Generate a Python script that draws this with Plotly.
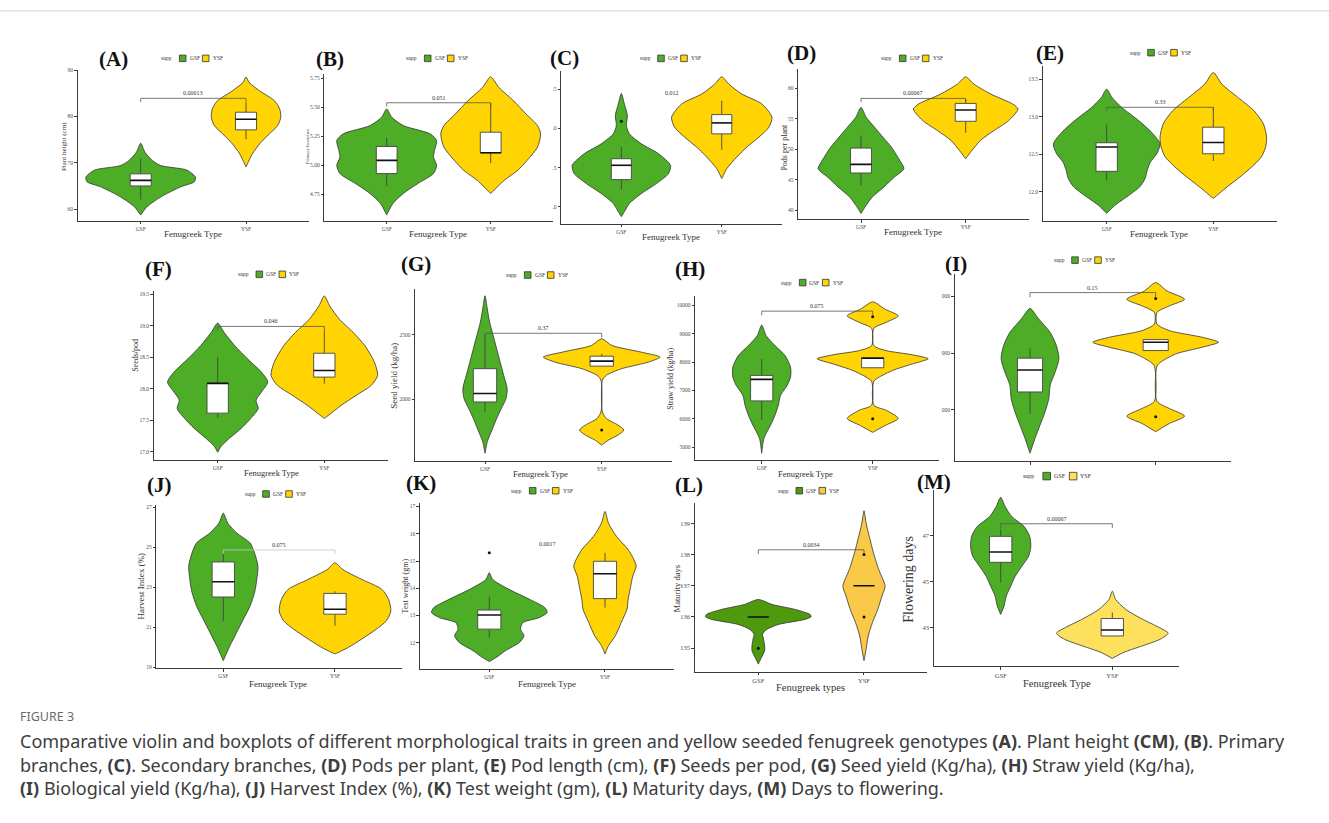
import plotly.graph_objects as go

W, H = 1329, 823
GROUPS = ["GSF", "YSF"]

GREEN = "#4DAD26"
YELLOW = "#FFD402"
GREEN_L = "#4E9A0C"
YELLOW_L = "#F9C947"
YELLOW_M = "#FDE05C"
SERIF = "Liberation Serif"

# ---------------- (A) Plant height (cm) ----------------
A_TICKS = [60, 70, 80, 90]
A_GSF_Y = [74.2, 72.3, 70.5, 69.4, 68.4, 66.9, 65.9, 64.8, 62.6, 60.5, 58.7]
A_GSF_W = [0, 0.04, 0.11, 0.19, 0.44, 0.52, 0.51, 0.38, 0.19, 0.06, 0]
A_YSF_Y = [88.5, 87.3, 85.5, 83.4, 81.6, 79.8, 78.0, 76.2, 74.1, 71.9, 69.1]
A_YSF_W = [0, 0.03, 0.13, 0.27, 0.32, 0.33, 0.30, 0.22, 0.13, 0.06, 0]
A_BOX = [[62.1, 65.0, 66.2, 67.6, 70.9], [75.1, 77.1, 79.4, 80.9, 83.0]]
A_OUT = [[], []]
A_P, A_BRACKET = "0.00013", 83.9

# ---------------- (B) Primary branches ----------------
B_TICKS = [4.75, 5.00, 5.25, 5.50, 5.75]
B_GSF_Y = [5.486, 5.414, 5.343, 5.271, 5.214, 5.129, 5.071, 5.0, 4.929, 4.843, 4.757, 4.671, 4.571]
B_GSF_W = [0, 0.05, 0.16, 0.42, 0.48, 0.46, 0.45, 0.48, 0.45, 0.30, 0.16, 0.06, 0]
B_YSF_Y = [5.763, 5.671, 5.557, 5.443, 5.343, 5.271, 5.157, 5.043, 4.957, 4.871, 4.757]
B_YSF_W = [0, 0.08, 0.22, 0.34, 0.45, 0.48, 0.45, 0.35, 0.26, 0.13, 0]
B_BOX = [[4.82, 4.929, 5.043, 5.163, 5.237], [5.02, 5.109, 5.109, 5.286, 5.537]]
B_OUT = [[], []]
B_P, B_BRACKET = "0.051", 5.54

# ---------------- (C) Secondary branches ----------------
C_TICKS = [1.0, 1.5, 2.0, 2.5]
C_TICKTEXT = [".0", ".5", ".0", ".5"]
C_GSF_Y = [2.449, 2.314, 2.165, 2.038, 1.932, 1.805, 1.678, 1.53, 1.424, 1.297, 1.169, 1.042, 0.958, 0.873]
C_GSF_W = [0, 0.03, 0.06, 0.05, 0.08, 0.20, 0.37, 0.49, 0.47, 0.35, 0.20, 0.08, 0.04, 0]
C_YSF_Y = [2.661, 2.568, 2.441, 2.314, 2.144, 2.017, 1.89, 1.763, 1.636, 1.487, 1.36]
C_YSF_W = [0, 0.07, 0.20, 0.40, 0.50, 0.47, 0.37, 0.25, 0.15, 0.05, 0]
C_BOX = [[1.22, 1.347, 1.53, 1.614, 1.763], [1.729, 1.932, 2.072, 2.178, 2.356]]
C_OUT = [[2.093], []]
C_P, C_LABEL_Y = "0.012", 2.39

# ---------------- (D) Pods per plant ----------------
D_TICKS = [40, 45, 50, 55, 60]
D_GSF_Y = [56.9, 55.27, 53.64, 52.01, 50.38, 48.21, 46.85, 45.49, 43.86, 42.23, 40.6, 39.5]
D_GSF_W = [0, 0.05, 0.13, 0.21, 0.29, 0.37, 0.41, 0.32, 0.22, 0.11, 0.04, 0]
D_YSF_Y = [61.9, 60.71, 59.08, 57.45, 56.63, 54.73, 53.1, 51.47, 49.84, 48.48]
D_YSF_W = [0, 0.08, 0.24, 0.45, 0.50, 0.41, 0.27, 0.14, 0.06, 0]
D_BOX = [[44.13, 46.14, 47.55, 50.22, 52.28], [52.72, 54.62, 56.47, 57.55, 58.26]]
D_OUT = [[], []]
D_P, D_BRACKET = "0.00067", 58.37

# ---------------- (E) Pod length (cm) ----------------
E_TICKS = [12.0, 12.5, 13.0, 13.5]
E_GSF_Y = [13.367, 13.257, 13.125, 12.948, 12.794, 12.64, 12.507, 12.397, 12.287, 12.176, 12.066, 11.934, 11.824, 11.713]
E_GSF_W = [0, 0.05, 0.14, 0.30, 0.42, 0.50, 0.47, 0.41, 0.38, 0.36, 0.31, 0.19, 0.08, 0]
E_YSF_Y = [13.588, 13.434, 13.257, 13.081, 12.904, 12.728, 12.596, 12.463, 12.331, 12.198, 12.066, 11.912]
E_YSF_W = [0, 0.08, 0.23, 0.38, 0.47, 0.50, 0.49, 0.45, 0.36, 0.25, 0.13, 0]
E_BOX = [[12.154, 12.273, 12.596, 12.653, 12.895], [12.41, 12.507, 12.657, 12.86, 13.125]]
E_OUT = [[], []]
E_P, E_BRACKET = "0.33", 13.125

# ---------------- (F) Seeds per pod ----------------
F_TICKS = [17.0, 17.5, 18.0, 18.5, 19.0, 19.5]
F_GSF_Y = [19.042, 18.895, 18.684, 18.474, 18.263, 18.105, 17.947, 17.816, 17.684, 17.526, 17.368, 17.211, 17.079, 16.99]
F_GSF_W = [0, 0.06, 0.16, 0.28, 0.41, 0.47, 0.41, 0.36, 0.38, 0.31, 0.22, 0.11, 0.03, 0]
F_YSF_Y = [19.474, 19.316, 19.105, 18.895, 18.684, 18.421, 18.211, 18.053, 17.895, 17.737, 17.605, 17.526]
F_YSF_W = [0, 0.05, 0.14, 0.27, 0.38, 0.47, 0.50, 0.44, 0.30, 0.16, 0.06, 0]
F_BOX = [[17.537, 17.611, 18.084, 18.084, 18.495], [18.079, 18.184, 18.289, 18.563, 18.921]]
F_OUT = [[], []]
F_P, F_BRACKET = "0.046", 18.989

# ---------------- (G) Seed yield (kg/ha) ----------------
G_TICKS = [2000, 2500]
G_GSF_Y = [2800, 2697, 2595, 2492, 2390, 2287, 2185, 2082, 2005, 1928, 1851, 1762, 1672, 1582]
G_GSF_W = [0, 0.02, 0.04, 0.07, 0.10, 0.13, 0.16, 0.19, 0.18, 0.14, 0.10, 0.06, 0.02, 0]
G_YSF_Y = [2467, 2415, 2364, 2326, 2287, 2236, 2185, 2146, 1903, 1851, 1800, 1762, 1723, 1685, 1646]
G_YSF_W = [0, 0.09, 0.34, 0.50, 0.40, 0.17, 0.04, 0.006, 0.006, 0.04, 0.14, 0.19, 0.14, 0.06, 0]
G_BOX = [[1903, 1979, 2044, 2236, 2497], [2256, 2256, 2295, 2333, 2351]]
G_OUT = [[], [1762]]
G_P, G_BRACKET = "0.37", 2510

# ---------------- (H) Straw yield (kg/ha) ----------------
H_TICKS = [5000, 6000, 7000, 8000, 9000, 10000]
H_GSF_Y = [9301, 8928, 8578, 8228, 7821, 7471, 7180, 6830, 6480, 6131, 5781, 5315, 4790]
H_GSF_W = [0, 0.04, 0.12, 0.21, 0.26, 0.26, 0.23, 0.17, 0.15, 0.12, 0.08, 0.02, 0]
H_YSF_Y = [10117, 9860, 9627, 9394, 9184, 8578, 8403, 8252, 8112, 7937, 7704, 7471, 7319, 6480, 6305, 6014, 5781, 5524]
H_YSF_W = [0, 0.11, 0.23, 0.12, 0.01, 0.01, 0.12, 0.36, 0.50, 0.36, 0.18, 0.06, 0.01, 0.01, 0.12, 0.23, 0.12, 0]
H_BOX = [[5956, 6632, 7389, 7529, 8112], [7797, 7797, 8130, 8150, 8150]]
H_OUT = [[], [9592, 6002]]
H_P, H_BRACKET = "0.075", 9790

# ---------------- (I) Biological yield (kg/ha) ----------------
I_TICKS = [9000, 10000, 11000]
I_TICKTEXT = ["000", "000", "000"]
I_GSF_Y = [10790, 10602, 10368, 10135, 9901, 9667, 9433, 9199, 8965, 8731, 8497, 8234]
I_GSF_W = [0, 0.07, 0.16, 0.21, 0.23, 0.20, 0.16, 0.15, 0.12, 0.08, 0.04, 0]
I_YSF_Y = [11246, 11099, 10953, 10836, 10719, 10515, 10398, 10281, 10193, 10105, 9988, 9842, 9772, 9152, 9023, 8889, 8760, 8614]
I_YSF_W = [0, 0.09, 0.23, 0.11, 0.01, 0.01, 0.11, 0.37, 0.50, 0.37, 0.16, 0.04, 0.01, 0.01, 0.11, 0.23, 0.11, 0]
I_BOX = [[8924, 9316, 9702, 9912, 10088], [10047, 10047, 10193, 10240, 10240]]
I_OUT = [[], [10965, 8877]]
I_P, I_BRACKET = "0.15", 11070

# ---------------- (J) Harvest index (%) ----------------
J_TICKS = [19, 21, 23, 25, 27]
J_GSF_Y = [26.7, 26.2, 25.71, 25.21, 24.71, 24.05, 23.39, 22.73, 22.06, 21.4, 20.74, 20.08, 19.33]
J_GSF_W = [0, 0.04, 0.12, 0.24, 0.28, 0.31, 0.30, 0.28, 0.24, 0.18, 0.12, 0.06, 0]
J_YSF_Y = [24.22, 23.88, 23.39, 22.89, 22.39, 21.81, 21.32, 20.9, 20.41, 19.99, 19.66]
J_YSF_W = [0, 0.07, 0.24, 0.42, 0.48, 0.50, 0.46, 0.37, 0.24, 0.12, 0]
J_BOX = [[21.32, 22.51, 23.27, 24.26, 24.68], [21.07, 21.65, 21.9, 22.69, 22.79]]
J_OUT = [[], []]
J_P, J_BRACKET = "0.075", 24.86

# ---------------- (K) Test weight (gm) ----------------
K_TICKS = [12, 13, 14, 15, 16, 17]
K_GSF_Y = [14.57, 14.32, 13.96, 13.59, 13.29, 13.11, 12.92, 12.74, 12.5, 12.26, 12.01, 11.71, 11.46, 11.31]
K_GSF_W = [0, 0.03, 0.17, 0.35, 0.48, 0.50, 0.43, 0.29, 0.27, 0.30, 0.26, 0.14, 0.06, 0]
K_YSF_Y = [16.82, 16.39, 15.9, 15.42, 15.05, 14.81, 14.45, 14.02, 13.59, 13.23, 12.74, 12.26, 11.89, 11.59]
K_YSF_W = [0, 0.03, 0.10, 0.20, 0.25, 0.27, 0.24, 0.22, 0.20, 0.19, 0.14, 0.09, 0.03, 0]
K_BOX = [[12.19, 12.5, 13.02, 13.2, 13.69], [13.29, 13.62, 14.53, 14.99, 15.3]]
K_OUT = [[15.3], []]
K_P, K_LABEL_Y = "0.0017", 15.44

# ---------------- (L) Maturity days ----------------
L_TICKS = [135, 136, 137, 138, 139]
L_GSF_Y = [136.56, 136.4, 136.24, 136.08, 136.01, 135.92, 135.76, 135.6, 135.45, 135.29, 135.07, 134.92, 134.7, 134.49]
L_GSF_W = [0, 0.13, 0.35, 0.49, 0.50, 0.44, 0.19, 0.08, 0.04, 0.05, 0.06, 0.06, 0.03, 0]
L_YSF_Y = [139.4, 139.0, 138.58, 138.05, 137.51, 137.2, 136.98, 136.67, 136.24, 135.82, 135.39, 134.97, 134.6]
L_YSF_W = [0, 0.02, 0.05, 0.09, 0.14, 0.18, 0.20, 0.17, 0.13, 0.08, 0.04, 0.02, 0]
L_BOX = [[136, 136, 136, 136, 136], [137, 137, 137, 137, 137]]
L_OUT = [[135], [138, 136]]
L_P, L_BRACKET = "0.0034", 138.15

# ---------------- (M) Days to flowering ----------------
M_TICKS = [43, 45, 47]
M_GSF_Y = [48.66, 48.26, 47.82, 47.39, 46.96, 46.52, 46.09, 45.66, 45.22, 44.79, 44.36, 43.92, 43.56]
M_GSF_W = [0, 0.04, 0.10, 0.21, 0.26, 0.27, 0.25, 0.19, 0.13, 0.09, 0.05, 0.03, 0]
M_YSF_Y = [44.57, 44.21, 43.78, 43.35, 42.99, 42.74, 42.48, 42.19, 41.9, 41.64]
M_YSF_W = [0, 0.03, 0.12, 0.27, 0.42, 0.50, 0.43, 0.27, 0.10, 0]
M_BOX = [[44.96, 45.83, 46.28, 46.96, 47.27], [42.62, 42.62, 42.88, 43.38, 43.64]]
M_OUT = [[], []]
M_P, M_BRACKET = "0.00067", 47.51


def fmt(ticks, nd):
    return [f"{t:.{nd}f}" for t in ticks]


# Panel layout: plot area in pixels (left, top, right, bottom), axis range and
# the placement of the surrounding texts.
panels = [
    dict(tag="(A)", area=(77.5, 67, 309.2, 219), yr=(57.5, 90.1), ticks=A_TICKS, tt=fmt(A_TICKS, 0),
         v=[(A_GSF_Y, A_GSF_W), (A_YSF_Y, A_YSF_W)], box=A_BOX, out=A_OUT, p=A_P, br=A_BRACKET,
         tagpos=(113, 56.5), leg=(166.7, 55.7), yt=("Plant height (cm)", 64, 145, 7),
         xt=("Fenugreek Type", 193.3, 232, 9)),
    dict(tag="(B)", area=(324.3, 71.7, 553.1, 219.3), yr=(4.52, 5.786), ticks=B_TICKS, tt=fmt(B_TICKS, 2),
         v=[(B_GSF_Y, B_GSF_W), (B_YSF_Y, B_YSF_W)], box=B_BOX, out=B_OUT, p=B_P, br=B_BRACKET,
         tagpos=(329.7, 56.5), leg=(411.7, 55.7), yt=("Primary branches", 307, 145, 5),
         xt=("Fenugreek Type", 438.3, 232, 9)),
    dict(tag="(C)", area=(561.1, 68.3, 782, 222.3), yr=(0.78, 2.737), ticks=C_TICKS, tt=C_TICKTEXT,
         v=[(C_GSF_Y, C_GSF_W), (C_YSF_Y, C_YSF_W)], box=C_BOX, out=C_OUT, p=C_P, label_y=C_LABEL_Y,
         tagpos=(564, 55.5), leg=(645, 55.7), yt=None,
         xt=("Fenugreek Type", 671, 235, 9)),
    dict(tag="(D)", area=(798.2, 66.7, 1028.5, 217.7), yr=(38.53, 63.15), ticks=D_TICKS, tt=fmt(D_TICKS, 0),
         v=[(D_GSF_Y, D_GSF_W), (D_YSF_Y, D_YSF_W)], box=D_BOX, out=D_OUT, p=D_P, br=D_BRACKET,
         tagpos=(801, 50), leg=(886.7, 55.7), yt=("Pods per plant", 784.5, 145, 8),
         xt=("Fenugreek Type", 913, 230.5, 9)),
    dict(tag="(E)", area=(1042.7, 63.3, 1277.3, 219.3), yr=(11.612, 13.676), ticks=E_TICKS, tt=fmt(E_TICKS, 1),
         v=[(E_GSF_Y, E_GSF_W), (E_YSF_Y, E_YSF_W)], box=E_BOX, out=E_OUT, p=E_P, br=E_BRACKET,
         tagpos=(1049.5, 50), leg=(1135, 50), yt=None,
         xt=("Fenugreek Type", 1159, 232, 9)),
    dict(tag="(F)", area=(153.7, 289.7, 388.3, 459.7), yr=(16.868, 19.553), ticks=F_TICKS, tt=fmt(F_TICKS, 1),
         v=[(F_GSF_Y, F_GSF_W), (F_YSF_Y, F_YSF_W)], box=F_BOX, out=F_OUT, p=F_P, br=F_BRACKET,
         tagpos=(158.3, 268), leg=(243.3, 273), yt=("Seeds/pod", 136, 355, 8),
         xt=("Fenugreek Type", 271.7, 473, 8.5)),
    dict(tag="(G)", area=(415, 287.3, 671.7, 460.7), yr=(1523, 2856), ticks=G_TICKS, tt=fmt(G_TICKS, 0),
         v=[(G_GSF_Y, G_GSF_W), (G_YSF_Y, G_YSF_W)], box=G_BOX, out=G_OUT, p=G_P, br=G_BRACKET,
         tagpos=(416, 263), leg=(511.7, 273.7), yt=("Seed yield (kg/ha)", 394, 375, 9),
         xt=("Fenugreek Type", 540, 474, 8.5)),
    dict(tag="(H)", area=(695.1, 294.7, 939.3, 460), yr=(4545, 10326), ticks=H_TICKS, tt=fmt(H_TICKS, 0),
         v=[(H_GSF_Y, H_GSF_W), (H_YSF_Y, H_YSF_W)], box=H_BOX, out=H_OUT, p=H_P, br=H_BRACKET,
         tagpos=(690, 268), leg=(786.7, 281.3), yt=("Straw yield (kg/ha)", 671, 378, 8),
         xt=("Fenugreek Type", 805, 474, 8.5)),
    dict(tag="(I)", area=(954.6, 273, 1231.1, 461.3), yr=(8088, 11392), ticks=I_TICKS, tt=I_TICKTEXT,
         v=[(I_GSF_Y, I_GSF_W), (I_YSF_Y, I_YSF_W)], box=I_BOX, out=I_OUT, p=I_P, br=I_BRACKET,
         tagpos=(956, 263), leg=(1059, 258.7), yt=None, xt=None, xlabels=False),
    dict(tag="(J)", area=(156.3, 505, 402, 669.3), yr=(18.95, 27.11), ticks=J_TICKS, tt=fmt(J_TICKS, 0),
         v=[(J_GSF_Y, J_GSF_W), (J_YSF_Y, J_YSF_W)], box=J_BOX, out=J_OUT, p=J_P, br=J_BRACKET,
         brcolor="#c8c8c8",
         tagpos=(159, 485), leg=(250, 494), yt=("Harvest Index (%)", 141, 587, 9),
         xt=("Fenugreek Type", 278.3, 685, 9)),
    dict(tag="(K)", area=(419.9, 503.3, 674.4, 670), yr=(11.04, 17.12), ticks=K_TICKS, tt=fmt(K_TICKS, 0),
         v=[(K_GSF_Y, K_GSF_W), (K_YSF_Y, K_YSF_W)], box=K_BOX, out=K_OUT, p=K_P, label_y=K_LABEL_Y,
         tagpos=(421, 482.7), leg=(516.7, 490.7), yt=("Test weight (gm)", 405, 587, 8),
         xt=("Fenugreek Type", 546.7, 685.5, 9)),
    dict(tag="(L)", area=(694.9, 503.3, 927.4, 672.7), yr=(134.25, 139.64), ticks=L_TICKS, tt=fmt(L_TICKS, 0),
         v=[(L_GSF_Y, L_GSF_W), (L_YSF_Y, L_YSF_W)], box=L_BOX, out=L_OUT, p=L_P, br=L_BRACKET,
         colors=(GREEN_L, YELLOW_L), boxless=True,
         tagpos=(689, 485), leg=(783.3, 490.7), yt=("Maturity days", 677, 590, 8.5),
         xt=("Fenugreek types", 810, 689, 10.5), tick=6.5),
    dict(tag="(M)", area=(933.7, 490, 1179.3, 667.3), yr=(41.30, 48.98), ticks=M_TICKS, tt=fmt(M_TICKS, 0),
         v=[(M_GSF_Y, M_GSF_W), (M_YSF_Y, M_YSF_W)], box=M_BOX, out=M_OUT, p=M_P, br=M_BRACKET,
         colors=(GREEN, YELLOW_M),
         tagpos=(934, 481.7), leg=(1028.3, 476), yt=("Flowering days", 908.3, 580, 14),
         xt=("Fenugreek Type", 1056.7, 684.5, 10.5), tick=6.5),
]

fig = go.Figure()
annotations = []
shapes = []


def px(xp):
    return xp / W


def py(yp):
    return 1 - yp / H


def paper_text(text, x, y, size, color="#333333", angle=0, anchor="center", bold=False):
    return dict(x=px(x), y=py(y), xref="paper", yref="paper", text=("<b>%s</b>" % text) if bold else text,
                showarrow=False, xanchor=anchor, yanchor="middle", textangle=angle,
                font=dict(family=SERIF, size=size, color=color))


AXIS_COLOR = "#3a3a3a"
TICK_FONT_COLOR = "#4d4d4d"
BOX_WIDTH = 0.2
BOX_LINE = "#444444"

for i, p in enumerate(panels, start=1):
    sfx = "" if i == 1 else str(i)
    xref, yref = "x" + sfx, "y" + sfx
    x0, y0, x1, y1 = p["area"]
    tsize = p.get("tick", 5.5)
    common = dict(showline=True, linecolor=AXIS_COLOR, linewidth=1, ticks="outside", ticklen=2.5,
                  tickcolor=AXIS_COLOR, tickwidth=0.8, showgrid=False, zeroline=False, fixedrange=True,
                  tickfont=dict(family=SERIF, size=tsize, color=TICK_FONT_COLOR))
    fig.update_layout(**{
        "xaxis" + sfx: dict(domain=[px(x0), px(x1)], range=[0.4, 2.6], anchor=yref,
                            tickvals=[1, 2], ticktext=GROUPS, showticklabels=p.get("xlabels", True),
                            **common),
        "yaxis" + sfx: dict(domain=[py(y1), py(y0)], range=list(p["yr"]), anchor=xref,
                            tickvals=p["ticks"], ticktext=p["tt"], **common),
    })

    colors = p.get("colors", (GREEN, YELLOW))
    for g in range(2):
        pos = g + 1
        vy, vw = p["v"][g]
        # violin outline: left half, then right half back
        xs = [pos - w for w in vw] + [pos + w for w in reversed(vw)]
        ys = list(vy) + list(reversed(vy))
        fig.add_trace(go.Scatter(
            x=xs, y=ys, xaxis=xref, yaxis=yref, mode="lines", fill="toself",
            fillcolor=colors[g], line=dict(color="#333333", width=0.8, shape="spline", smoothing=0.7),
            hoverinfo="skip", showlegend=False))

        lo, q1, med, q3, hi = p["box"][g]
        bl, br_ = pos - BOX_WIDTH / 2, pos + BOX_WIDTH / 2
        if not p.get("boxless"):
            # whiskers
            fig.add_trace(go.Scatter(
                x=[pos, pos, None, pos, pos], y=[hi, q3, None, q1, lo], xaxis=xref, yaxis=yref,
                mode="lines", line=dict(color=BOX_LINE, width=0.9), hoverinfo="skip", showlegend=False))
            # box body
            fig.add_trace(go.Scatter(
                x=[bl, br_, br_, bl, bl], y=[q1, q1, q3, q3, q1], xaxis=xref, yaxis=yref,
                mode="lines", fill="toself", fillcolor="white",
                line=dict(color=BOX_LINE, width=0.9), hoverinfo="skip", showlegend=False))
        # median
        fig.add_trace(go.Scatter(
            x=[bl, br_], y=[med, med], xaxis=xref, yaxis=yref,
            mode="lines", line=dict(color="#111111", width=1.6), hoverinfo="skip", showlegend=False))

        if p["out"][g]:
            fig.add_trace(go.Scatter(
                x=[pos] * len(p["out"][g]), y=p["out"][g], xaxis=xref, yaxis=yref, mode="markers",
                marker=dict(color="#111111", size=3), hoverinfo="skip", showlegend=False))

    # significance bracket and p-value
    span = p["yr"][1] - p["yr"][0]
    if "br" in p:
        b = p["br"]
        tip = 0.025 * span
        fig.add_trace(go.Scatter(
            x=[1, 1, 2, 2], y=[b - tip, b, b, b - tip], xaxis=xref, yaxis=yref, mode="lines",
            line=dict(color=p.get("brcolor", "#555555"), width=0.8), hoverinfo="skip", showlegend=False))
        ly = b
    else:
        ly = p["label_y"]
    annotations.append(dict(
        x=1.5, y=ly, xref=xref, yref=yref, text=p["p"], showarrow=False, xanchor="center",
        yanchor="bottom", font=dict(family=SERIF, size=6, color="#333333")))

    # panel tag
    tx, ty = p["tagpos"]
    annotations.append(paper_text(p["tag"], tx, ty, 21, color="#111111", bold=True))

    # legend: supp [GSF] [YSF]
    lx, ly2 = p["leg"]
    big = p["tag"] == "(M)"
    k = 1.15 if big else 1.0
    lsize = 6 if big else 5.5
    annotations.append(paper_text("supp", lx, ly2, lsize))
    for g, off in enumerate((16, 39)):
        cx = lx + off * k
        half = 3.3 * k
        shapes.append(dict(type="rect", xref="paper", yref="paper",
                           x0=px(cx - half), x1=px(cx + half), y0=py(ly2 + half), y1=py(ly2 - half),
                           fillcolor=colors[g], line=dict(color="#333333", width=0.8)))
        annotations.append(paper_text(GROUPS[g], cx + half + 1.5, ly2, lsize, anchor="left"))

    # axis titles
    if p.get("yt"):
        t, ax, ay, s = p["yt"]
        annotations.append(paper_text(t, ax, ay, s, angle=-90))
    if p.get("xt"):
        t, ax, ay, s = p["xt"]
        annotations.append(paper_text(t, ax, ay, s))

# top rule
shapes.append(dict(type="line", xref="paper", yref="paper", x0=0, x1=1, y0=py(8), y1=py(8),
                   line=dict(color="#cfcfcf", width=1)))

# caption
CAPTION_FONT = "Noto Sans"
annotations.append(dict(x=px(18), y=py(718), xref="paper", yref="paper", text="FIGURE 3",
                        showarrow=False, xanchor="left", yanchor="middle",
                        font=dict(family=CAPTION_FONT, size=12.5, color="#6b6b6b")))
caption_lines = [
    "Comparative violin and boxplots of different morphological traits in green and yellow seeded fenugreek "
    "genotypes <b>(A)</b>. Plant height <b>(CM)</b>, <b>(B)</b>. Primary",
    "branches, <b>(C)</b>. Secondary branches, <b>(D)</b> Pods per plant, <b>(E)</b> Pod length (cm), "
    "<b>(F)</b> Seeds per pod, <b>(G)</b> Seed yield (Kg/ha), <b>(H)</b> Straw yield (Kg/ha),",
    "<b>(I)</b> Biological yield (Kg/ha), <b>(J)</b> Harvest Index (%), <b>(K)</b> Test weight (gm), "
    "<b>(L)</b> Maturity days, <b>(M)</b> Days to flowering.",
]
for line, yy in zip(caption_lines, (743, 767, 790)):
    annotations.append(dict(x=px(18), y=py(yy), xref="paper", yref="paper", text=line,
                            showarrow=False, xanchor="left", yanchor="middle",
                            font=dict(family=CAPTION_FONT, size=18, color="#3d3d3d")))

fig.update_layout(
    width=W, height=H, margin=dict(l=0, r=0, t=0, b=0), autosize=False,
    paper_bgcolor="white", plot_bgcolor="white", showlegend=False,
    annotations=annotations, shapes=shapes,
)

fig.write_html("out.html")
